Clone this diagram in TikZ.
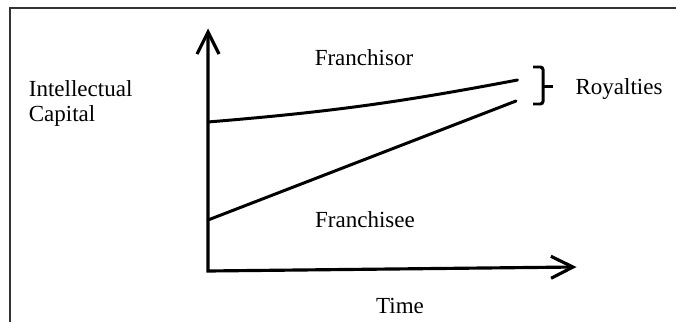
\documentclass[tikz,border=0pt]{standalone}
\usepackage{fontspec}
\setmainfont{Liberation Serif}
\usetikzlibrary{arrows.meta,positioning}

\begin{document}
\begin{tikzpicture}[
 barb/.tip={Straight Barb[length=4.4mm,width=4.4mm]},
 axes/.style={barb-barb,line width=1.8pt,line join=miter},
 trend/.style={line width=1.7pt,line cap=round},
 bracket/.style={line width=1.7pt,rounded corners=1.5pt},
 lbl/.style={font=\fontsize{13.1}{14.6}\selectfont,inner sep=0pt},
 frame/.style={line width=1.1pt,draw=black!80}]
 \useasboundingbox (0,0) rectangle (13.52,6.44);
 \draw[frame] (0.2,0)--(0.2,6.28)--(13.52,6.28);
 \coordinate (origin) at (4.16,1.02);
 \coordinate (ytop) at (4.16,5.87);
 \coordinate (xend) at (11.53,1.10);
 \coordinate (sorstart) at (4.16,4.0);
 \coordinate (sorend) at (10.35,4.84);
 \coordinate (seestart) at (4.16,2.04);
 \coordinate (seeend) at (10.32,4.42);
 \draw[axes] (ytop)--(origin)--(xend);
 \draw[trend] (sorstart) to[bend right=3] (sorend);
 \draw[trend] (seestart)--(seeend);
 \draw[bracket] (10.66,5.10)--(10.86,5.10)--(10.86,4.36)--(10.66,4.36);
 \draw[bracket] (10.86,4.71)--(11.06,4.71);
 \node[lbl] (franchisor) at (7.28,5.28) {Franchisor};
 \node[lbl] (franchisee) at (7.3,2.04) {Franchisee};
 \node[lbl] (royalties) at (12.38,4.66) {Royalties};
 \node[lbl] (time) at (8.0,0.32) {Time};
 \node[lbl,anchor=west,align=left] (capital) at (0.57,4.37) {Intellectual\\Capital};
\end{tikzpicture}
\end{document}
